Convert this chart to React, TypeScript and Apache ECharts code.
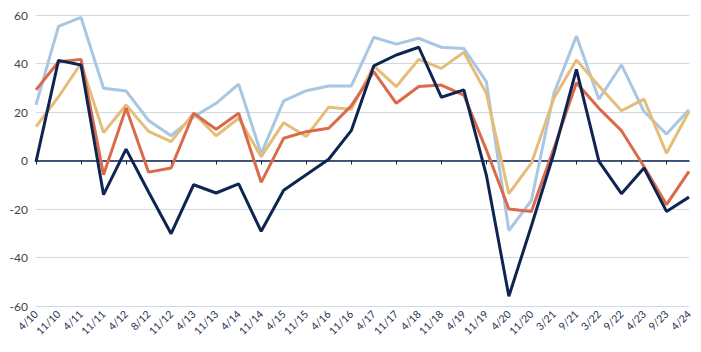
import React, { useEffect, useRef } from "react";
import * as echarts from "echarts";

const categories = ["4/10","11/10","4/11","11/11","4/12","8/12","11/12","4/13","11/13","4/14","11/14","4/15","11/15","4/16","11/16","4/17","11/17","4/18","11/18","4/19","11/19","4/20","11/20","3/21","9/21","3/22","9/22","4/23","9/23","4/24"];

const lightBlue = [23, 55.3, 59, 29.8, 28.7, 16.5, 10.2, 18, 23.6, 31.5, 2.8, 24.6, 28.8, 30.7, 30.7, 50.8, 48, 50.4, 46.7, 46.2, 32.5, -28.9, -16.5, 27.7, 51.3, 25.3, 39.4, 20.2, 10.9, 20.9];
const tan = [14, 26.3, 40, 11.5, 22.9, 12, 7.8, 19.5, 10.2, 17.4, 1.6, 15.6, 9.9, 22, 21.1, 39, 30.5, 41.7, 38, 44.6, 27.7, -13.7, -1.1, 25.7, 41.4, 30.7, 20.5, 25.3, 3, 20.2];
const orange = [29.1, 40.7, 41.7, -5.9, 21.6, -4.8, -3.1, 19.5, 12.9, 19.5, -9, 9.2, 11.9, 13.3, 22.5, 36.6, 23.6, 30.5, 31.1, 27, 4.4, -20, -21, 5, 32.1, 21.5, 12.3, -2.5, -18.2, -4.5];
const navy = [-0.5, 41.3, 39.4, -14.1, 4.7, -13, -30.2, -10, -13.4, -9.6, -29.2, -12.3, -5.9, 0.5, 12.3, 39, 43.5, 46.7, 26.1, 29.1, -6, -56, -27, 3, 37.6, -0.4, -13.7, -3.1, -21, -15.1];

const yTicks = { min: -60, max: 60, interval: 20 };

export default function App() {
  const ref = useRef<HTMLDivElement>(null);
  useEffect(() => {
    if (!ref.current) return;
    const chart = echarts.init(ref.current, null, { renderer: "svg" });
    const mk = (name: string, data: number[], color: string) => ({
      name,
      type: "line",
      data,
      xAxisIndex: 0,
      symbol: "none",
      lineStyle: { color, width: 3 },
      itemStyle: { color },
    });
    chart.setOption({
      animation: false,
      grid: { left: 36, right: 12, top: 15, bottom: 46 },
      xAxis: [
        {
          type: "category",
          data: categories,
          boundaryGap: false,
          axisLine: { onZero: true, lineStyle: { color: "#0e2552", width: 1.5 } },
          axisTick: { show: true, length: 4, lineStyle: { color: "#0e2552" }, alignWithLabel: true },
          axisLabel: { show: false },
          splitLine: { show: false },
          z: 1,
        },
        {
          type: "category",
          data: categories,
          boundaryGap: false,
          position: "bottom",
          axisLine: { show: false, onZero: false },
          axisTick: { show: false },
          axisLabel: {
            show: true,
            interval: 0,
            rotate: 45,
            color: "#1f3050",
            fontSize: 10.5,
            fontFamily: "Lato, sans-serif",
            margin: 6,
          },
          splitLine: { show: false },
        },
      ],
      yAxis: {
        type: "value",
        min: yTicks.min,
        max: yTicks.max,
        interval: yTicks.interval,
        axisLine: { show: false },
        axisTick: { show: false },
        axisLabel: { color: "#444", fontSize: 12, fontFamily: "Lato, sans-serif", margin: 8 },
        splitLine: { lineStyle: { color: "#cfd9e6", width: 1 } },
      },
      series: [
        mk("A", lightBlue, "#a9c6e2"),
        mk("B", tan, "#e6bd78"),
        mk("C", orange, "#da6a4a"),
        mk("D", navy, "#0e2552"),
      ],
    });
    return () => chart.dispose();
  }, []);
  return <div ref={ref} style={{ width: 701, height: 352, position: "absolute", left: 0, top: 0 }} />;
}
